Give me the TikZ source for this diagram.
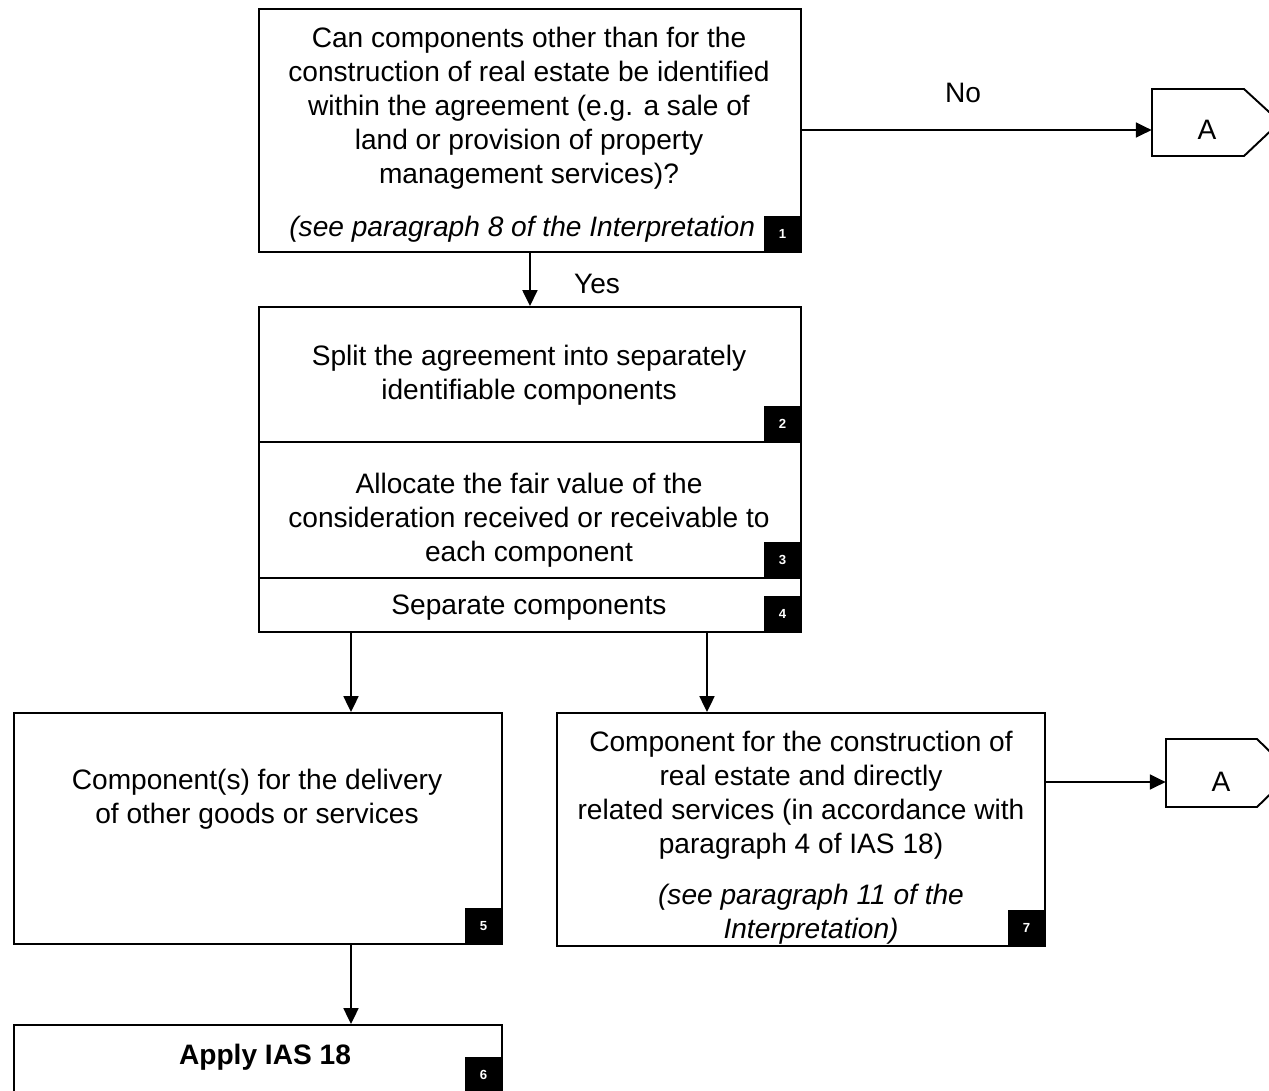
\documentclass[tikz,border=0pt]{standalone}
\usepackage{fontspec}
\setmainfont{Liberation Sans}
\usetikzlibrary{arrows.meta}

\newcommand{\px}{0.02cm}

\tikzset{
	box/.style={draw, line width=1.1pt, anchor=north west, inner sep=0pt},
	badge/.style={fill=black, text=white, font=\fontsize{7.5}{8}\selectfont\bfseries,
		minimum width=38*\px, minimum height=37*\px, inner sep=0pt, anchor=south east},
	txt/.style={align=center, font=\fontsize{16}{19.3}\selectfont},
	note/.style={align=center, font=\fontsize{16}{19.3}\selectfont\itshape},
	tag/.style={font=\fontsize{16}{19.3}\selectfont, minimum width=110*\px, minimum height=40*\px, inner sep=0pt},
	arr/.style={line width=1.1pt, -{Triangle[length=9pt,width=8.5pt]}}
}

\begin{document}
\begin{tikzpicture}[x=\px, y=-\px]

	%Background
	\useasboundingbox[fill=white] (0,0) rectangle (1269,1090);

	%Question
	\node[box, minimum width=542*\px, minimum height=243*\px] (b1) at (258,8) {};
	\node[txt] (t1) at (529,108) {Can components other than for the\\construction of real estate be identified\\within the agreement (e.g. a sale of\\land or provision of property\\management services)?};
	\node[note, anchor=west, inner sep=0pt] (t1i) at (289,229) {(see paragraph 8 of the Interpretation};
	\node[badge] (n1) at (b1.south east) {1};

	%Steps
	\node[box, minimum width=542*\px, minimum height=135*\px] (b2) at (258,306) {};
	\node[txt] (t2) at (529,375) {Split the agreement into separately\\identifiable components};
	\node[badge] (n2) at (b2.south east) {2};

	\node[box, minimum width=542*\px, minimum height=136*\px] (b3) at (258,441) {};
	\node[txt] (t3) at (529,520) {Allocate the fair value of the\\consideration received or receivable to\\each component};
	\node[badge] (n3) at (b3.south east) {3};

	\node[box, minimum width=542*\px, minimum height=54*\px] (b4) at (258,577) {};
	\node[txt] (t4) at (529,608) {Separate components};
	\node[badge] (n4) at (b4.south east) {4};

	%Components
	\node[box, minimum width=488*\px, minimum height=231*\px] (b5) at (13,712) {};
	\node[txt] (t5) at (257,799) {Component(s) for the delivery\\of other goods or services};
	\node[badge] (n5) at (b5.south east) {5};

	\node[box, minimum width=488*\px, minimum height=233*\px] (b7) at (556,712) {};
	\node[txt] (t7) at (801,795) {Component for the construction of\\real estate and directly\\related services (in accordance with\\paragraph 4 of IAS 18)};
	\node[note] (t7i) at (811,914) {(see paragraph 11 of the\\Interpretation)};
	\node[badge] (n7) at (b7.south east) {7};

	%Result
	\node[box, minimum width=488*\px, minimum height=68*\px] (b6) at (13,1024) {};
	\node[txt, font=\fontsize{16}{19.3}\selectfont\bfseries] (t6) at (265,1057) {Apply IAS 18};
	\node[badge] (n6) at (b6.south east) {6};

	%Off-page tags
	\draw[line width=1.1pt, fill=white] (1152,89) -- (1244,89) -- (1280,122) -- (1244,156) -- (1152,156) -- cycle;
	\node[tag] (tagA1) at (1207,130) {A};
	\draw[line width=1.1pt, fill=white] (1166,739) -- (1257,739) -- (1292,773) -- (1257,807) -- (1166,807) -- cycle;
	\node[tag] (tagA2) at (1221,782) {A};

	%Connectors
	\coordinate (s5) at (351,631);
	\coordinate (s7) at (707,631);

	\draw[arr] (tagA1.west -| b1.east) -- (tagA1.west);
	\node[txt] (no) at (963,93) {No};
	\draw[arr] (b1.south) -- (b2.north);
	\node[txt] (yes) at (597,284) {Yes};
	\draw[arr] (s5) -- (s5 |- b5.north);
	\draw[arr] (s7) -- (s7 |- b7.north);
	\draw[arr] (s5 |- b5.south) -- (s5 |- b6.north);
	\draw[arr] (tagA2.west -| b7.east) -- (tagA2.west);

\end{tikzpicture}
\end{document}
